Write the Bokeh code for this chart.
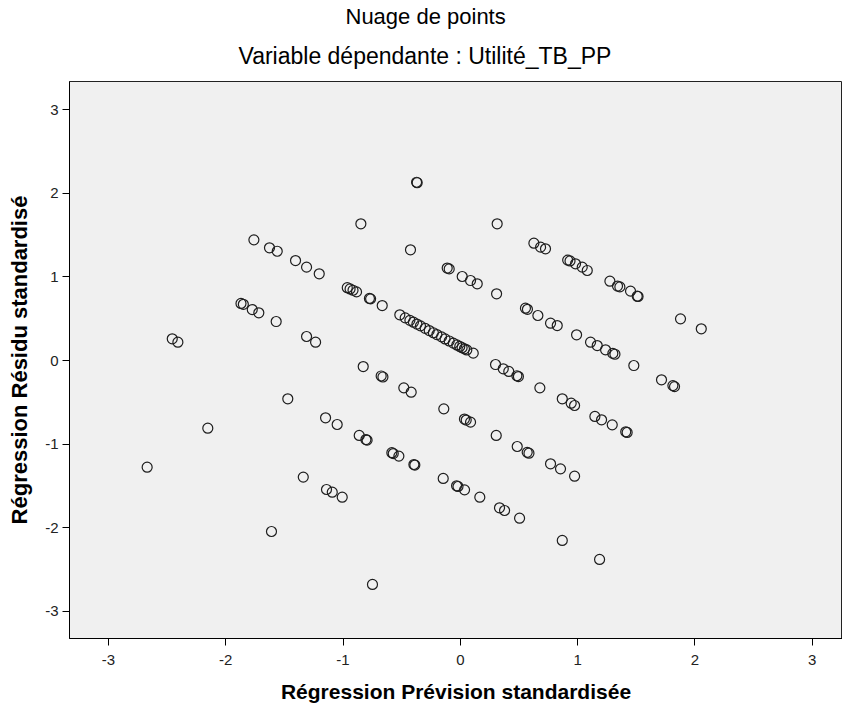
from bokeh.plotting import figure
from bokeh.models import Range1d, FixedTicker, Title, CustomJSTickFormatter
from bokeh.embed import file_html
from bokeh.resources import INLINE

# Standardized predicted values (x) and standardized residuals (y)
pred = [
    -1.760, -1.627, -1.561, -1.405, -1.311, -1.203,
    -0.848, -0.425, -0.373, -0.368, 0.314,
    -0.112, -0.095, 0.016, 0.087, 0.144, 0.309,
    0.627, 0.684, 0.726, 0.915, 0.935, 0.982, 1.039, 1.082, 1.275, 1.340, 1.360, 1.451, 1.508, 1.515,
    1.877, 2.054,
    -0.964, -0.940, -0.915, -0.885, -0.775, -0.765, -0.666, -0.516,
    -0.470, -0.430, -0.400, -0.370, -0.340, -0.300, -0.265, -0.230, -0.200, -0.160, -0.130,
    -0.095, -0.060, -0.030, -0.005, 0.015, 0.035, 0.055, 0.110,
    0.555, 0.572, 0.661, 0.769, 0.826, 0.991, 1.110, 1.167, 1.238, 1.300, 1.318,
    -1.870, -1.850, -1.774, -1.718, -1.570, -2.456, -2.408, -1.311, -1.234,
    -0.828, -0.675, -0.660, -0.482, -0.419, -0.141, 0.035, 0.050, 0.087,
    0.306, 0.485, 0.570, 0.585, 0.769, 0.854, 0.974,
    0.300, 0.366, 0.413, 0.482, 0.495, 0.678, 0.869, 0.945, 0.974,
    1.147, 1.204, 1.295, 1.410, 1.422,
    1.479, 1.715, 1.812, 1.826,
    -1.471, -2.153, -2.670, -1.149, -1.050, -0.862, -0.805, -0.795,
    -0.584, -0.572, -0.524, -0.396, -0.388,
    -0.146, -0.032, -0.020, 0.036, 0.166, 0.334, 0.377, 0.505,
    -1.339, -1.141, -1.092, -1.007, -1.610, -0.749, 0.869, 1.187,
]
resid = [
    1.442, 1.347, 1.306, 1.195, 1.116, 1.036,
    1.634, 1.323, 2.131, 2.125, 1.634,
    1.105, 1.095, 1.004, 0.956, 0.917, 0.797,
    1.402, 1.355, 1.335, 1.200, 1.190, 1.156, 1.116, 1.076, 0.948, 0.890, 0.880, 0.829, 0.769, 0.765,
    0.498, 0.379,
    0.870, 0.855, 0.840, 0.820, 0.742, 0.737, 0.657, 0.546,
    0.510, 0.480, 0.458, 0.436, 0.414, 0.385, 0.358, 0.332, 0.310, 0.282, 0.258,
    0.233, 0.208, 0.186, 0.168, 0.153, 0.140, 0.126, 0.088,
    0.625, 0.612, 0.538, 0.446, 0.418, 0.307, 0.219, 0.179, 0.128, 0.085, 0.075,
    0.682, 0.672, 0.609, 0.570, 0.466, 0.259, 0.219, 0.287, 0.219,
    -0.072, -0.185, -0.197, -0.327, -0.379, -0.578, -0.700, -0.712, -0.737,
    -0.896, -1.028, -1.098, -1.108, -1.235, -1.295, -1.383,
    -0.048, -0.099, -0.131, -0.182, -0.192, -0.327, -0.458, -0.510, -0.538,
    -0.669, -0.709, -0.769, -0.852, -0.860,
    -0.060, -0.231, -0.300, -0.312,
    -0.458, -0.809, -1.275, -0.685, -0.765, -0.896, -0.945, -0.952,
    -1.102, -1.112, -1.143, -1.243, -1.250,
    -1.410, -1.498, -1.506, -1.546, -1.634, -1.761, -1.793, -1.885,
    -1.394, -1.542, -1.574, -1.634, -2.044, -2.677, -2.151, -2.378,
]

x_ticks = [-3, -2, -1, 0, 1, 2, 3]
y_ticks = [-3, -2, -1, 0, 1, 2, 3]

title_text = "Nuage de points"
subtitle_text = "Variable dépendante : Utilité_TB_PP"
x_label = "Régression Prévision standardisée"
y_label = "Régression Résidu standardisé"

FONT = "Liberation Sans"

p = figure(
    width=842, height=710,
    output_backend="svg", toolbar_location=None,
    x_range=Range1d(-3.332, 3.258), y_range=Range1d(-3.323, 3.335),
    min_border_left=69, min_border_right=0, min_border_top=81, min_border_bottom=72,
)
p.background_fill_color = "#F0F0F0"
p.border_fill_color = "white"
p.outline_line_color = "#222222"
p.outline_line_width = 1
p.grid.visible = False

fmt = CustomJSTickFormatter(code="return String(tick);")

for ax, ticks, lab in ((p.xaxis[0], x_ticks, x_label), (p.yaxis[0], y_ticks, y_label)):
    ax.ticker = FixedTicker(ticks=ticks, minor_ticks=[])
    ax.formatter = fmt
    ax.axis_label = lab
    ax.axis_label_text_font = FONT
    ax.axis_label_text_font_style = "bold"
    ax.axis_label_text_color = "#000000"
    ax.major_label_text_font = FONT
    ax.major_label_text_font_size = "15px"
    ax.major_label_text_color = "#222222"
    ax.major_tick_in = 0
    ax.major_tick_out = 7
    ax.major_tick_line_color = "#000000"
    ax.axis_line_color = "#000000"
    ax.minor_tick_line_color = None

p.xaxis.axis_label_text_font_size = "21px"
p.yaxis.axis_label_text_font_size = "22px"
p.xaxis.major_label_standoff = 9
p.xaxis.axis_label_standoff = 12
p.yaxis.major_label_standoff = 4
p.yaxis.axis_label_standoff = 10

p.scatter(pred, resid, marker="circle", size=10, fill_color=None,
          line_color="#1e1e1e", line_width=1.2)

p.add_layout(Title(text=subtitle_text, align="left", offset=169, standoff=25,
                   text_font=FONT, text_font_size="23px", text_font_style="normal",
                   text_color="#000000"), "above")
p.add_layout(Title(text=title_text, align="left", offset=345 - 69, standoff=0,
                   text_font=FONT, text_font_size="22px", text_font_style="normal",
                   text_color="#000000"), "above")

open("out.html", "w").write(file_html(p, INLINE))
